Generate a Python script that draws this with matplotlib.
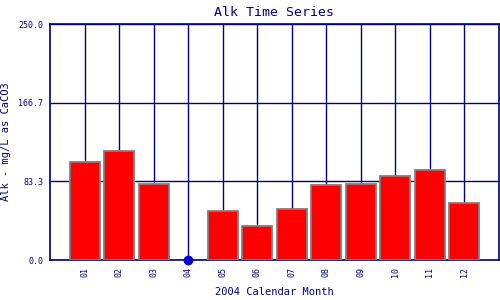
import matplotlib
matplotlib.use("Agg")
import matplotlib.pyplot as plt

# data
months = ["01", "02", "03", "04", "05", "06", "07", "08", "09", "10", "11", "12"]
alk = [103.5, 115.0, 81.0, 0.0, 51.5, 35.5, 54.5, 79.5, 80.5, 89.0, 95.0, 60.5]
missing = ["04"]
yticks = [0.0, 83.3, 166.7, 250.0]

navy = "#000080"
plt.rcParams['font.family'] = ['DejaVu Sans Mono']

fig = plt.figure(figsize=(5, 3), dpi=100)
ax = fig.add_axes([0.1, 0.1333, 0.898, 0.7867])

x = list(range(1, len(months) + 1))
bars = [i for i, m in zip(x, months) if m not in missing]
ax.bar(bars, [v for v, m in zip(alk, months) if m not in missing], width=0.87,
       color="red", edgecolor="#808080", linewidth=1.3, zorder=3)
mx = [i for i, m in zip(x, months) if m in missing]
ax.plot(mx, [0] * len(mx), "o", color="#0000cc", markersize=6, zorder=4, clip_on=False)

ax.set_xlim(0, 13)
ax.set_ylim(0, 250)
ax.set_xticks(x)
ax.set_xticklabels(months, rotation=90, fontsize=6, color=navy)
ax.set_yticks(yticks)
ax.set_yticklabels(["%.1f" % t for t in yticks], fontsize=6, color=navy)
ax.tick_params(length=0, pad=5)
ax.grid(True, color=navy, linewidth=1, zorder=0)
ax.set_axisbelow(True)
for s in ax.spines.values():
    s.set_color(navy)
    s.set_linewidth(1.2)

ax.set_title("Alk Time Series", fontsize=9.5, color=navy, pad=6)
ax.set_xlabel("2004 Calendar Month", fontsize=7.5, color=navy, labelpad=7)
ax.set_ylabel("Alk - mg/L as CaCO3", fontsize=7.5, color=navy, labelpad=5)

fig.savefig("out.png", dpi=100)
